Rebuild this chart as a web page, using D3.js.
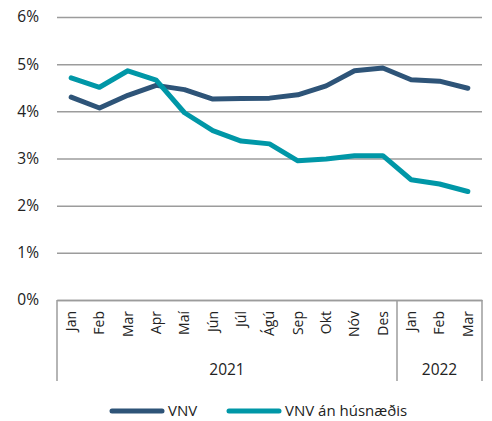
<!DOCTYPE html>
<html lang="is">
<head>
<meta charset="UTF-8">
<title>VNV</title>
<script src="https://cdn.jsdelivr.net/npm/d3@7"></script>
<style>
  body { margin: 0; background: #fff; }
  text { font-family: "Open Sans", "DejaVu Sans", sans-serif; fill: #222; }
</style>
</head>
<body>
<svg id="chart" width="492" height="421"></svg>
<script>
// months and years on the x axis
const months = ['Jan','Feb','Mar','Apr','Maí','Jún','Júl','Ágú','Sep','Okt','Nóv','Des','Jan','Feb','Mar']
const years = [{label: '2021', n: 12}, {label: '2022', n: 3}]
const yTicks = [0, 1, 2, 3, 4, 5, 6]

// series values, %
const vnv = [4.30, 4.07, 4.34, 4.55, 4.46, 4.26, 4.27, 4.28, 4.35, 4.54, 4.86, 4.92, 4.67, 4.64, 4.49]
const vnvAnHusn = [4.71, 4.51, 4.86, 4.66, 3.97, 3.59, 3.37, 3.31, 2.95, 2.99, 3.06, 3.06, 2.55, 2.46, 2.30]

const seriesNames = ['VNV', 'VNV án húsnæðis']
const colors = ['#2e5478', '#0097a7']

const svg = d3.select('#chart')
const margin = {left: 57, right: 10, top: 17, bottom: 121}
const width = +svg.attr('width'), height = +svg.attr('height')
const innerW = width - margin.left - margin.right
const innerH = height - margin.top - margin.bottom

const g = svg.append('g').attr('transform', `translate(${margin.left},${margin.top})`)

// categories are indexed so repeated month names stay separate
const x = d3.scaleBand().domain(d3.range(months.length)).range([0, innerW])
const y = d3.scaleLinear().domain([0, 6]).range([innerH, 0])

// gridlines + y labels
const yAxis = d3.axisLeft(y).tickValues(yTicks).tickFormat(d => d + '%')
  .tickSize(-innerW).tickPadding(18)
g.append('g').call(yAxis)
  .call(s => s.select('.domain').remove())
  .call(s => s.selectAll('.tick line').attr('stroke', '#9c9c9c').attr('stroke-width', 1.5))
  .call(s => s.selectAll('.tick text').attr('font-size', 15.5).attr('fill', '#222'))

// x axis: month labels rotated
const xAxis = d3.axisBottom(x).tickSize(0).tickFormat(i => months[i])
const xg = g.append('g').attr('transform', `translate(0,${innerH})`).call(xAxis)
xg.select('.domain').attr('stroke', '#9c9c9c').attr('stroke-width', 1.5)
xg.selectAll('.tick text')
  .attr('font-size', 14)
  .attr('fill', '#222')
  .attr('text-anchor', 'end')
  .attr('dy', '0.35em')
  .attr('transform', 'translate(0,11) rotate(-90)')
  .attr('x', 0).attr('y', 0)

// year group separators and labels
const boxH = 81
let start = 0
const edges = [0]
years.forEach(yr => {
  const x0 = x(start), x1 = x(start + yr.n - 1) + x.bandwidth()
  edges.push(start + yr.n)
  xg.append('text')
    .attr('x', (x0 + x1) / 2).attr('y', 70)
    .attr('text-anchor', 'middle').attr('dy', '0.35em')
    .attr('font-size', 15.5).attr('fill', '#222')
    .text(yr.label)
  start += yr.n
})
edges.forEach(i => {
  const xx = i < months.length ? x(i) : innerW
  xg.append('line')
    .attr('x1', xx).attr('x2', xx).attr('y1', 0).attr('y2', boxH)
    .attr('stroke', '#9c9c9c').attr('stroke-width', 1.5)
})

// lines
const line = d3.line().x((d, i) => x(i) + x.bandwidth() / 2).y(d => y(d))
;[vnv, vnvAnHusn].forEach((s, k) => {
  g.append('path').datum(s)
    .attr('d', line)
    .attr('fill', 'none')
    .attr('stroke', colors[k])
    .attr('stroke-width', 5)
    .attr('stroke-linejoin', 'round')
    .attr('stroke-linecap', 'round')
})

// legend
const legendY = 411
const legendX = [112, 229]
seriesNames.forEach((name, k) => {
  svg.append('line')
    .attr('x1', legendX[k]).attr('x2', legendX[k] + 50)
    .attr('y1', legendY).attr('y2', legendY)
    .attr('stroke', colors[k]).attr('stroke-width', 5)
    .attr('stroke-linecap', 'round')
  svg.append('text')
    .attr('x', legendX[k] + 56).attr('y', legendY)
    .attr('dy', '0.35em').attr('font-size', 15)
    .text(name)
})
</script>
</body>
</html>
